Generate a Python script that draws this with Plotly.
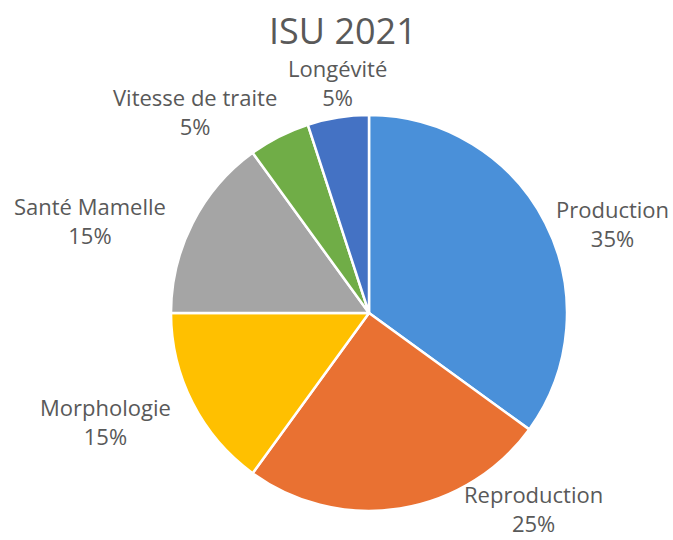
import plotly.graph_objects as go

labels = ["Production", "Reproduction", "Morphologie", "Santé Mamelle", "Vitesse de traite", "Longévité"]
values = [35, 25, 15, 15, 5, 5]
colors = ["#4A90D9", "#E97132", "#FFC000", "#A5A5A5", "#70AD47", "#4472C4"]
title_text = "ISU 2021"

W, H = 673, 540
cx, cy, R = 369, 313, 198

# label centres (pixels) in layout
label_px = [(612, 224), (533, 508), (105, 421), (90, 221), (195, 112), (337, 82)]

fig = go.Figure(go.Pie(
    labels=labels, values=values, sort=False, direction="clockwise", rotation=0,
    marker=dict(colors=colors, line=dict(color="white", width=2.5)),
    textinfo="none", hoverinfo="label+percent", showlegend=False,
    domain=dict(x=[(cx - R) / W, (cx + R) / W], y=[(H - cy - R) / H, (H - cy + R) / H]),
))

total = sum(values)
annotations = []
for lab, v, (px, py) in zip(labels, values, label_px):
    annotations.append(dict(
        x=px / W, y=1 - py / H, xref="paper", yref="paper",
        text=f"{lab}<br>{round(100 * v / total)}%", showarrow=False,
        xanchor="center", yanchor="middle", align="center",
        font=dict(size=22, color="#595959", family="Open Sans"),
    ))
annotations.append(dict(
    x=343 / W, y=1 - 31 / H, xref="paper", yref="paper", text=title_text,
    showarrow=False, xanchor="center", yanchor="middle",
    font=dict(size=36, color="#595959", family="Open Sans"),
))

fig.update_layout(
    width=W, height=H, margin=dict(l=0, r=0, t=0, b=0),
    paper_bgcolor="white", plot_bgcolor="white", annotations=annotations,
)
fig.write_html("out.html", config={"displayModeBar": False},
               post_script="document.body.style.margin='0';document.body.style.overflow='hidden';")
